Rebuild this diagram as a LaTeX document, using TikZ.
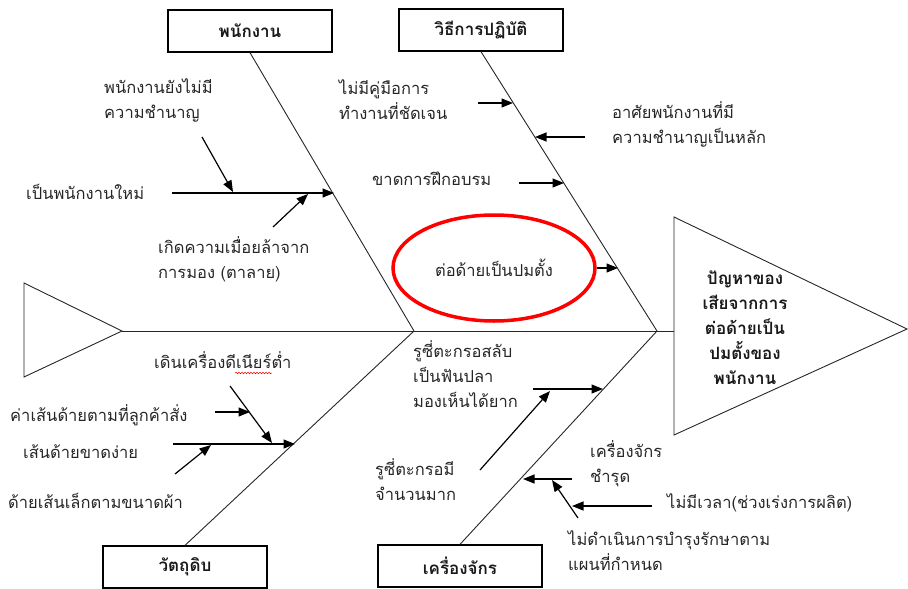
\documentclass[tikz,border=0pt]{standalone}
\usepackage{fontspec}
\newfontfamily\thai[Script=Thai]{Loma}
\usetikzlibrary{arrows.meta,decorations.pathmorphing,shapes.geometric}
\begin{document}
\begin{tikzpicture}[x=1pt,y=-1pt,
  lbl/.style={font=\thai\fontsize{16.5}{25}\selectfont, text=black!85, inner sep=0pt, anchor=base west, align=left},
  headlbl/.style={font=\thai\bfseries\fontsize{17}{25}\selectfont, text=black!90, inner sep=0pt, anchor=base, align=center},
  catbox/.style={draw, line width=1.3pt, minimum width=164pt, minimum height=42pt, inner sep=0pt, text=black!90, font=\thai\bfseries\fontsize{17}{18}\selectfont},
  bone/.style={line width=0.9pt, draw=black!85},
  outline/.style={line width=0.9pt, draw=black!85},
  arr/.style={line width=1.2pt, -{Triangle[length=11.5pt,width=9pt]}},
]
\useasboundingbox (0,0) rectangle (908,589);

% category boxes
\node[catbox] (b1) at (250,31) {พนักงาน};
\node[catbox] (b2) at (481,30) {วิธีการปฏิบัติ};
\node[catbox] (b3) at (185,567) {วัตถุดิบ};
\node[catbox] (b4) at (460,566) {เครื่องจักร};

% spine
\coordinate (tail) at (122,331);
\coordinate (j1) at (414,331);
\coordinate (j2) at (657,331);
\coordinate (headL) at (674,331);
\draw[outline] (24,283) -- (tail) -- (24,377) -- cycle;
\draw[outline] (674,217) -- (907,329) -- (674,435) -- cycle;
\draw[bone] (tail) -- (headL);
\node[headlbl] (head) at (745,384) {ปัญหาของ\\เสียจากการ\\ต่อด้ายเป็น\\ปมตั้งของ\\พนักงาน};

% bones
\draw[bone] (b1.south) -- (j1);
\draw[bone] (b2.south) -- (j2);
\draw[bone] (j1) -- (b3.north);
\draw[bone] (j2) -- (b4.north);

% employee
\node[lbl] (t1) at (104,118) {พนักงานยังไม่มี\\ความชำนาญ};
\node[lbl] (t2) at (26,199) {เป็นพนักงานใหม่};
\node[lbl] (t3) at (158,278) {เกิดความเมื่อยล้าจาก\\การมอง (ตาลาย)};
\coordinate (e1s) at (172,193); \coordinate (e1e) at (334,193);
\coordinate (e2s) at (202,137); \coordinate (e2e) at (233,192);
\coordinate (e3s) at (273,227); \coordinate (e3e) at (308,194);
\draw[arr] (e1s) -- (e1e);
\draw[arr] (e2s) -- (e2e);
\draw[arr] (e3s) -- (e3e);

% method
\node[lbl] (t4) at (339,119) {ไม่มีคู่มือการ\\ทำงานที่ชัดเจน};
\node[lbl] (t5) at (612,143) {อาศัยพนักงานที่มี\\ความชำนาญเป็นหลัก};
\node[lbl] (t6) at (372,185) {ขาดการฝึกอบรม};
\node[draw=red, line width=3.5pt, ellipse, minimum width=202pt, minimum height=106pt, inner sep=0pt,
      text=black!85, font=\thai\fontsize{16.5}{18}\selectfont] (oval) at (494,268) {ต่อด้ายเป็นปมตั้ง};
\coordinate (m1s) at (478,103); \coordinate (m1e) at (513,103);
\coordinate (m2s) at (585,137); \coordinate (m2e) at (535,137);
\coordinate (m3s) at (519,183); \coordinate (m3e) at (564,183);
\coordinate (m4e) at (618,268);
\draw[arr] (m1s) -- (m1e);
\draw[arr] (m2s) -- (m2e);
\draw[arr] (m3s) -- (m3e);
\draw[arr] (oval.east) -- (m4e);

% raw material
\node[lbl] (t7) at (154,368) {เดินเครื่องดีเนียร์ต่ำ};
\draw[red, line width=0.5pt, decorate, decoration={snake, segment length=3pt, amplitude=0.8pt}] (235,373) -- (272,373);
\node[lbl] (t8) at (10,421) {ค่าเส้นด้ายตามที่ลูกค้าสั่ง};
\node[lbl] (t9) at (23,458) {เส้นด้ายขาดง่าย};
\node[lbl] (t10) at (8,508) {ด้ายเส้นเล็กตามขนาดผ้า};
\coordinate (r1s) at (215,412); \coordinate (r1e) at (250,412);
\coordinate (r2s) at (230,386); \coordinate (r2e) at (272,443);
\coordinate (r3s) at (173,444); \coordinate (r3e) at (295,444);
\coordinate (r4s) at (175,474); \coordinate (r4e) at (211,445);
\draw[arr] (r1s) -- (r1e);
\draw[arr] (r2s) -- (r2e);
\draw[arr] (r3s) -- (r3e);
\draw[arr] (r4s) -- (r4e);

% machine
\node[lbl] (t11) at (413,407) {รูซี่ตะกรอสลับ\\เป็นฟันปลา\\มองเห็นได้ยาก};
\node[lbl] (t12) at (375,500) {รูซี่ตะกรอมี\\จำนวนมาก};
\node[lbl] (t13) at (590,482) {เครื่องจักร\\ชำรุด};
\node[lbl] (t14) at (667,508) {ไม่มีเวลา(ช่วงเร่งการผลิต)};
\node[lbl] (t15) at (568,570) {ไม่ดำเนินการบำรุงรักษาตาม\\แผนที่กำหนด};
\coordinate (k1s) at (533,389); \coordinate (k1e) at (603,389);
\coordinate (k2s) at (480,470); \coordinate (k2e) at (550,391);
\coordinate (k3s) at (572,479); \coordinate (k3e) at (523,479);
\coordinate (k4s) at (578,518); \coordinate (k4e) at (552,480);
\coordinate (k5s) at (652,506); \coordinate (k5e) at (572,506);
\draw[arr] (k1s) -- (k1e);
\draw[arr] (k2s) -- (k2e);
\draw[arr] (k3s) -- (k3e);
\draw[arr] (k4s) -- (k4e);
\draw[arr] (k5s) -- (k5e);
\end{tikzpicture}
\end{document}
